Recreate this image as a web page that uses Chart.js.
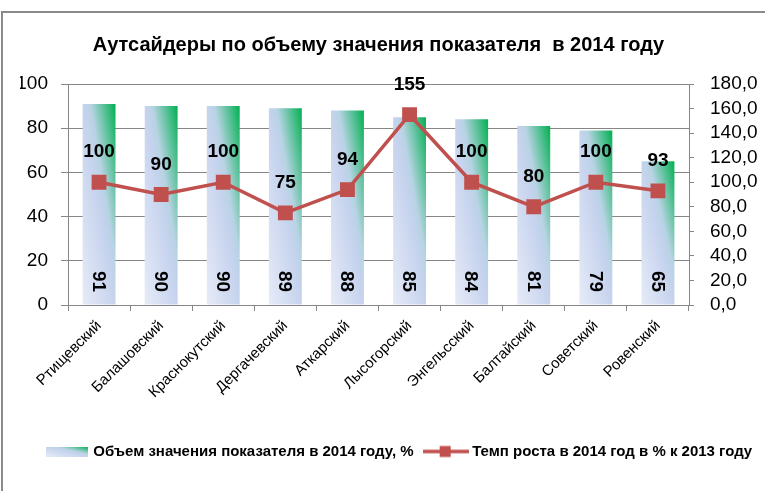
<!DOCTYPE html>
<html>
<head>
<meta charset="utf-8">
<script src="https://cdn.jsdelivr.net/npm/chart.js@4.4.1/dist/chart.umd.min.js"></script>
<style>
  html, body { margin: 0; padding: 0; background: #fff; }
</style>
</head>
<body>
<canvas id="myChart" width="765" height="491"></canvas>
<script>
const districts = ['Ртищевский', 'Балашовский', 'Краснокутский', 'Дергачевский', 'Аткарский',
  'Лысогорский', 'Энгельсский', 'Балтайский', 'Советский', 'Ровенский'];
const volume2014 = [91, 90, 90, 89, 88, 85, 84, 81, 79, 65];
const growthRate = [100, 90, 100, 75, 94, 155, 100, 80, 100, 93];
const leftTicks = [0, 20, 40, 60, 80, 100];
const rightTicks = [0, 20, 40, 60, 80, 100, 120, 140, 160, 180];
const seriesNames = ['Объем значения показателя в 2014 году, %', 'Темп роста в 2014 год в % к 2013 году'];
const chartTitle = 'Аутсайдеры по объему значения показателя  в 2014 году';

const FONT = '"Liberation Sans", Arial, sans-serif';
const GRID = '#868686';
const RED = '#c0504d';
const BAR_PCT = 0.53;

Chart.defaults.font.family = FONT;
Chart.defaults.color = '#000';

// diagonal fill: pale blue in the lower-left corner, green in the upper-right
function barGradient(ctx, left, top, right, bottom) {
  const w = Math.max(right - left, 1), h = Math.max(bottom - top, 1);
  const k = 2 / (1 / (w * w) + 1 / (h * h));
  const g = ctx.createLinearGradient(left, bottom, left + k / w, bottom - k / h);
  g.addColorStop(0, '#e6ebf7');
  g.addColorStop(0.5, '#c6d3ee');
  g.addColorStop(0.62, '#b7d3e3');
  g.addColorStop(1, '#00b050');
  return g;
}

function barIcon() {
  const c = document.createElement('canvas');
  c.width = 42; c.height = 10;
  const x = c.getContext('2d');
  x.fillStyle = barGradient(x, 0, 0, 42, 10);
  x.fillRect(0, 0, 42, 10);
  return c;
}

function lineIcon() {
  const c = document.createElement('canvas');
  c.width = 46; c.height = 14;
  const x = c.getContext('2d');
  x.strokeStyle = RED; x.lineWidth = 3.5;
  x.beginPath(); x.moveTo(0, 7); x.lineTo(46, 7); x.stroke();
  x.fillStyle = RED;
  x.fillRect(17, 1.5, 11, 11);
  return c;
}

const valueLabels = {
  id: 'valueLabels',
  afterDatasetsDraw(chart) {
    const ctx = chart.ctx;
    const lineMeta = chart.getDatasetMeta(0);
    const barMeta = chart.getDatasetMeta(1);
    ctx.save();
    ctx.fillStyle = '#000';
    ctx.font = 'bold 19px ' + FONT;
    ctx.textAlign = 'center';
    ctx.textBaseline = 'middle';
    // bar values run top-to-bottom near the base
    barMeta.data.forEach((bar, i) => {
      ctx.save();
      ctx.translate(bar.x, bar.base - 23);
      ctx.rotate(Math.PI / 2);
      ctx.fillText(String(volume2014[i]), 0, 1);
      ctx.restore();
    });
    lineMeta.data.forEach((pt, i) => {
      ctx.fillText(String(growthRate[i]), pt.x, pt.y - 30);
    });
    ctx.restore();
  }
};

const frame = {
  id: 'frame',
  beforeDraw(chart) {
    const ctx = chart.ctx;
    ctx.save();
    ctx.fillStyle = '#fff';
    ctx.fillRect(0, 0, chart.width, chart.height);
    ctx.fillStyle = '#8a8a8a';
    ctx.fillRect(1, 11, chart.width - 1, 2);
    ctx.fillRect(1, 11, 2, chart.height - 11);
    ctx.restore();
  }
};

new Chart(document.getElementById('myChart'), {
  data: {
    labels: districts,
    datasets: [
      {
        type: 'line',
        label: seriesNames[1],
        data: growthRate,
        yAxisID: 'y1',
        order: 1,
        borderColor: RED,
        borderWidth: 3.5,
        pointStyle: 'rect',
        pointRadius: 10.5,
        pointBackgroundColor: RED,
        pointBorderColor: RED,
        pointBorderWidth: 0,
        tension: 0
      },
      {
        type: 'bar',
        label: seriesNames[0],
        data: volume2014,
        yAxisID: 'y',
        order: 2,
        categoryPercentage: 1,
        barPercentage: BAR_PCT,
        borderWidth: 0,
        backgroundColor: c => {
          const chart = c.chart;
          const xs = chart.scales.x, ys = chart.scales.y;
          if (!xs || !ys || c.raw === undefined) return '#c6d3ee';
          const cx = xs.getPixelForValue(c.dataIndex);
          const half = xs.width / districts.length * BAR_PCT / 2;
          return barGradient(chart.ctx, cx - half, ys.getPixelForValue(c.raw), cx + half, ys.getPixelForValue(0));
        }
      }
    ]
  },
  options: {
    responsive: false,
    animation: false,
    devicePixelRatio: 1,
    layout: { padding: { left: 20, right: -15, top: 0, bottom: 22 } },
    plugins: {
      title: {
        display: true,
        text: chartTitle,
        fullSize: false,
        color: '#000',
        font: { size: 20, weight: 'bold', lineHeight: 1.2 },
        padding: { top: 33, bottom: 27 }
      },
      legend: {
        position: 'bottom',
        align: 'center',
        labels: {
          usePointStyle: true,
          pointStyleWidth: 38,
          padding: 13,
          color: '#000',
          font: { size: 15, weight: 'bold' },
          generateLabels: () => [
            { text: seriesNames[0], pointStyle: barIcon(), datasetIndex: 1, hidden: false,
              fillStyle: 'rgba(0,0,0,0)', strokeStyle: 'rgba(0,0,0,0)', lineWidth: 0 },
            { text: seriesNames[1], pointStyle: lineIcon(), datasetIndex: 0, hidden: false,
              fillStyle: 'rgba(0,0,0,0)', strokeStyle: 'rgba(0,0,0,0)', lineWidth: 0 }
          ]
        }
      },
      tooltip: { enabled: false }
    },
    scales: {
      x: {
        offset: true,
        afterFit: s => { s.height = 126; },
        grid: { offset: true, drawOnChartArea: false, color: GRID, tickLength: 6 },
        border: { color: GRID },
        ticks: { minRotation: 45, maxRotation: 45, padding: 6, font: { size: 15 }, color: '#000' }
      },
      y: {
        position: 'left',
        min: leftTicks[0],
        max: leftTicks[leftTicks.length - 1],
        afterBuildTicks: s => { s.ticks = leftTicks.map(v => ({ value: v })); },
        afterFit: s => { s.width = 48; },
        grid: { color: GRID, tickLength: 7 },
        border: { color: GRID },
        ticks: { padding: 13, autoSkip: false, font: { size: 19 }, color: '#000' }
      },
      y1: {
        position: 'right',
        min: rightTicks[0],
        max: rightTicks[rightTicks.length - 1],
        afterBuildTicks: s => { s.ticks = rightTicks.map(v => ({ value: v })); },
        afterFit: s => { s.width = 91; },
        grid: { drawOnChartArea: false, color: GRID, tickLength: 5 },
        border: { color: GRID },
        ticks: {
          padding: 16,
          autoSkip: false,
          font: { size: 19 },
          color: '#000',
          callback: v => v.toFixed(1).replace('.', ',')
        }
      }
    }
  },
  plugins: [frame, valueLabels]
});
</script>
</body>
</html>
